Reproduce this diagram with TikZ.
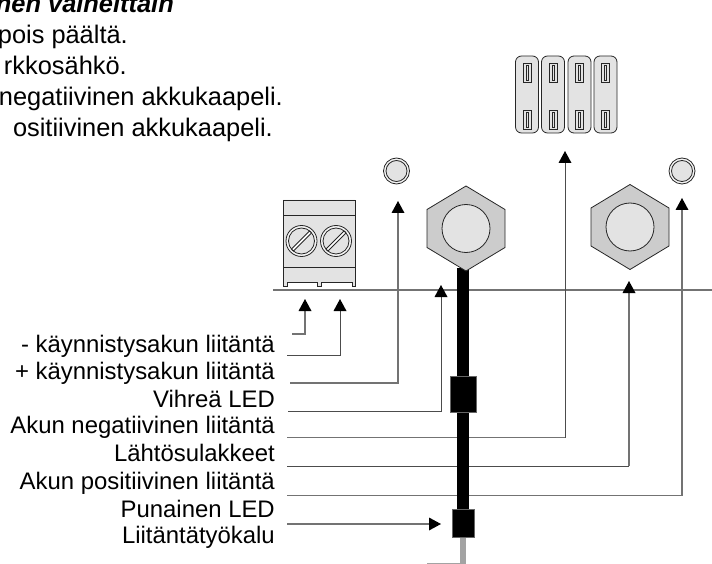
\documentclass[tikz,border=0pt]{standalone}
\usepackage{fontspec}
\setmainfont{Liberation Sans}
\definecolor{lg}{gray}{0.89}
\definecolor{mg}{gray}{0.8}
\definecolor{dg}{gray}{0.45}
\tikzset{
 lbl/.style={anchor=base east,inner sep=0pt,font=\fontsize{23.9}{26}\selectfont},
 hd/.style={anchor=base east,inner sep=0pt,font=\fontsize{25.4}{27}\selectfont},
 conn/.style={draw=black!70,line width=1pt},
 conng/.style={draw=dg,line width=1.6pt},
 tip/.style={fill=black,draw=none},
 part/.style={draw=black!85,line width=.8pt},
}
\begin{document}
\begin{tikzpicture}[x=1pt,y=-1pt]
\useasboundingbox (0,0) rectangle (712,564);
\clip (0,0) rectangle (712,564);
% heading
\node[hd,font=\fontsize{25.4}{27}\selectfont\bfseries\itshape] (h1) at (174,13) {nen vaiheittain};
\node[hd] (h2) at (128,43.5) {pois päältä.};
\node[hd] (h3) at (127,75) {rkkosähkö.};
\node[hd] (h4) at (283,106) {negatiivinen akkukaapeli.};
\node[hd] (h5) at (273,137) {ositiivinen akkukaapeli.};
% base line
\coordinate (bl) at (273,290); \coordinate (br) at (712,290);
\draw[conng] (bl) -- (br);
% terminal block
\draw[part,fill=lg] (283,200) -- (355,200) -- (355,286) -- (352,286) -- (352,282) -- (321,282) -- (321,286) -- (317,286) -- (317,282) -- (287,282) -- (287,286) -- (283,286) -- cycle;
\draw[part] (283,215) -- (355,215) (283,267) -- (355,267);
\foreach \c in {301.5,336}{
 \draw[part,fill=white!60!lg] (\c,241) circle (15.5);
 \draw[part,fill=lg] (\c,241) circle (13);
 \draw[part,fill=white] ({\c-10},249) -- ({\c+8},231) -- ({\c+10},233) -- ({\c-8},251) -- cycle;
}
% LEDs
\foreach \x in {396.5,682}{
 \draw[part,fill=white!60!lg] (\x,171) circle (13);
 \draw[part,fill=lg] (\x,171) circle (10.5);
}
% fuses
\foreach \x in {527,553,579.5,605.5}{
 \draw[part,fill=lg,rounded corners=6pt] ({\x-11.5},56) rectangle ({\x+11.5},133);
 \foreach \y in {63,110}{
  \draw[part] ({\x-4},\y) rectangle ({\x+4},{\y+19});
  \draw[part,line width=.5pt] ({\x-1},{\y+2}) rectangle ({\x+1},{\y+17});
 }
}
% cable
\fill[black] (457,268) rectangle (469,510);
\fill[mg!80!black] (460,537) rectangle (466,564);
\draw[mg!80!black,line width=1pt] (427,563) -- (466,563);
\draw[black!60,fill=black,line width=.6pt] (450,376) rectangle (476,412);
\draw[black!60,fill=black,line width=.6pt] (452,509) rectangle (474,537);
% nuts
\foreach \x/\y in {466/228.5,630/227}{
 \draw[part,fill=mg] (\x,{\y-42.5}) -- ({\x+39},{\y-19}) -- ({\x+39},{\y+19}) -- (\x,{\y+42.5}) -- ({\x-39},{\y+19}) -- ({\x-39},{\y-19}) -- cycle;
 \draw[part,fill=lg] (\x,\y) circle (24);
}
% labels
\node[lbl] (l1) at (275,352) {- käynnistysakun liitäntä};
\node[lbl] (l2) at (275,379) {+ käynnistysakun liitäntä};
\node[lbl] (l3) at (275,407) {Vihreä LED};
\node[lbl] (l4) at (275,433) {Akun negatiivinen liitäntä};
\node[lbl] (l5) at (275,461) {Lähtösulakkeet};
\node[lbl] (l6) at (275,489) {Akun positiivinen liitäntä};
\node[lbl] (l7) at (275,517) {Punainen LED};
\node[lbl] (l8) at (275,543) {Liitäntätyökalu};
% connectors
\coordinate (a1) at (305,311); \coordinate (a2) at (340,311);
\draw[conng,line width=1.1pt] (292,334) -- (305,334) -- (a1);
\draw[conn] (287,355) -- (340,355) -- (a2);
\coordinate (a3) at (398,212); \coordinate (a4) at (441,297);
\coordinate (a5) at (565,163); \coordinate (a6) at (629,293); \coordinate (a7) at (682,209);
\draw[conng] (290,383) -- (398,383) -- (a3);
\draw[conn] (288,411.5) -- (441,411.5) -- (a4);
\draw[conng] (287,437.5) -- (457,437.5) (469,437.5) -- (565,437.5);
\draw[conn] (565,437.5) -- (a5);
\draw[conn] (287,466) -- (457,466) (469,466) -- (629,466);
\draw[conng] (629,466) -- (a6);
\draw[conng] (287,495.5) -- (457,495.5) (469,495.5) -- (682,495.5) -- (a7);
\draw[conng] (287,524) -- (430,524);
\foreach \x/\t in {305/299,340/299,398/201,441/285,565/151,629/281,682/198}{
 \fill[tip] (\x,\t) -- ({\x+6.5},{\t+12}) -- ({\x-6.5},{\t+12}) -- cycle;
}
\fill[tip] (441,524) -- (429,517.5) -- (429,530.5) -- cycle;
\end{tikzpicture}
\end{document}
